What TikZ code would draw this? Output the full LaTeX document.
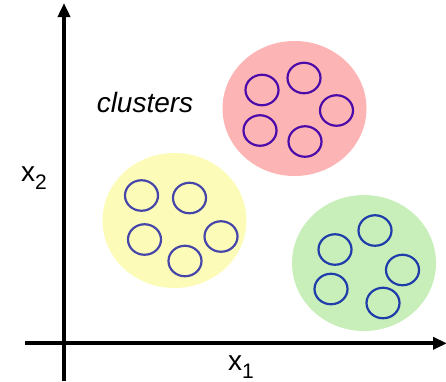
\documentclass[tikz,border=0pt]{standalone}
\usepackage{fontspec}
\setmainfont{Liberation Sans}
\usetikzlibrary{shapes.geometric,arrows.meta}
\definecolor{redfill}{RGB}{253,180,180}
\definecolor{yelfill}{RGB}{252,252,184}
\definecolor{grnfill}{RGB}{200,238,186}
\definecolor{redring}{RGB}{75,10,170}
\definecolor{yelring}{RGB}{70,70,170}
\definecolor{grnring}{RGB}{30,60,170}
\tikzset{
  blob/.style={ellipse,inner sep=0pt,minimum width=144pt,minimum height=135pt},
  ring/.style={ellipse,inner sep=0pt,minimum width=33pt,minimum height=30.5pt,line width=2.2pt,draw},
  axis/.style={line width=4pt,-{Triangle[length=14pt,width=12pt]}},
  lbl/.style={inner sep=0pt,font=\fontsize{28}{28}\selectfont}
}
\begin{document}
\begin{tikzpicture}[x=1pt,y=-1pt]
\useasboundingbox (0,0) rectangle (446,381);
% cluster backgrounds
\node[blob,fill=redfill] (R) at (294.5,108.5) {};
\node[blob,fill=yelfill] (Y) at (174.5,220.5) {};
\node[blob,fill=grnfill,minimum height=136pt] (G) at (364,263) {};
% red cluster points
\node[ring,draw=redring] (r1) at (262,90) {};
\node[ring,draw=redring] (r2) at (304,78) {};
\node[ring,draw=redring] (r3) at (336.5,110.5) {};
\node[ring,draw=redring] (r4) at (260,130.5) {};
\node[ring,draw=redring] (r5) at (305,141.5) {};
% yellow cluster points
\node[ring,draw=yelring] (y1) at (141.5,195.5) {};
\node[ring,draw=yelring] (y2) at (189.5,198) {};
\node[ring,draw=yelring] (y3) at (144.5,239.5) {};
\node[ring,draw=yelring] (y4) at (221,236.5) {};
\node[ring,draw=yelring] (y5) at (185,261) {};
% green cluster points
\node[ring,draw=grnring] (g1) at (375,230.5) {};
\node[ring,draw=grnring] (g2) at (335,249.5) {};
\node[ring,draw=grnring] (g3) at (402.5,270) {};
\node[ring,draw=grnring] (g4) at (331,289) {};
\node[ring,draw=grnring] (g5) at (383,303) {};
% axes
\coordinate (ybot) at (64,381);
\coordinate (ytop) at (64,3);
\coordinate (xleft) at (25,343.3);
\coordinate (xright) at (447,343.3);
\draw[axis] (ybot) -- (ytop);
\draw[axis] (xleft) -- (xright);
% labels
\node[lbl,anchor=base] (cl) at (145,112.7) {\itshape clusters};
\node[lbl,anchor=base west] (x2) at (21,181.7) {x\raisebox{-8pt}{\fontsize{21}{21}\selectfont 2}};
\node[lbl,anchor=base west] (x1) at (228,370) {x\raisebox{-8pt}{\fontsize{21}{21}\selectfont 1}};
\end{tikzpicture}
\end{document}
